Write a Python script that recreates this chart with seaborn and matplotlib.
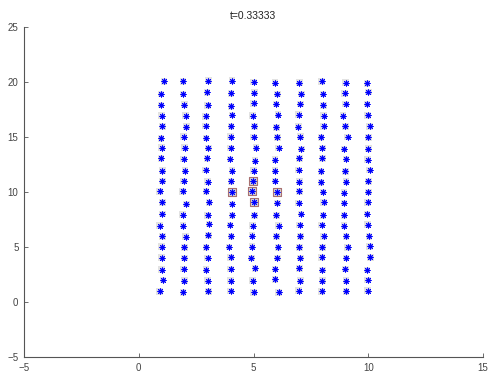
import numpy as np
import pandas as pd
import matplotlib
matplotlib.use("Agg")
import matplotlib.pyplot as plt
import seaborn as sns

title_text = "t=0.33333"
cols = list(range(1, 11))
rows = list(range(20, 0, -1))

# per-row jitter (data units), rows from y=20 down to y=1
dx_rows = [
    [0.09, -0.07, 0.03, 0.06, 0, -0.06, 0, -0.03, 0.01, -0.06],
    [-0.04, -0.07, -0.03, 0.03, 0.04, 0.04, 0.09, 0.03, -0.03, 0],
    [-0.04, -0.01, 0, 0.03, 0, -0.03, 0.04, 0.04, 0.01, -0.06],
    [0, 0.04, -0.09, 0.06, -0.04, 0.07, -0.03, 0.06, -0.09, -0.03],
    [0.03, 0.07, -0.09, 0.03, 0.04, 0, -0.04, 0.06, 0, 0.06],
    [-0.04, -0.04, -0.06, 0, 0, 0.04, 0.04, -0.06, 0.10, 0],
    [0, 0, 0.03, 0, 0.10, 0.10, 0.09, 0, -0.06, 0],
    [-0.04, -0.04, -0.03, -0.03, 0.07, -0.06, 0, 0, 0.04, -0.03],
    [0.03, 0.01, -0.09, 0.06, 0, -0.06, -0.03, -0.06, 0, 0.06],
    [0.03, -0.04, 0, 0.03, -0.04, -0.06, 0, -0.06, 0.04, 0],
    [-0.09, -0.09, -0.06, 0.06, -0.06, 0.04, 0, 0.03, -0.06, 0],
    [0.03, 0.07, 0.06, 0.06, 0.04, 0.04, -0.03, 0.06, -0.06, -0.03],
    [0.03, -0.09, 0, 0.06, 0.04, 0, 0.07, 0.03, -0.06, -0.06],
    [-0.09, -0.07, 0.06, -0.03, -0.04, 0.10, 0.01, -0.03, -0.06, -0.03],
    [0.03, 0.04, 0.03, 0.03, -0.06, 0, 0.04, 0.06, 0.04, 0.03],
    [0, -0.01, -0.06, -0.07, -0.06, 0.07, 0, 0, 0.10, 0.06],
    [0, -0.01, 0, 0, -0.09, 0.04, 0.04, -0.03, 0.04, 0.09],
    [0, -0.04, -0.06, 0, 0.07, -0.06, 0, 0, 0, -0.06],
    [0.06, -0.01, 0, 0, -0.04, -0.06, 0.04, 0, 0.04, -0.03],
    [-0.09, -0.07, 0.03, 0, 0, 0.10, -0.03, -0.03, 0.04, -0.03],
]
dy_rows = [
    [0.06, 0.06, 0.12, 0.12, 0, -0.06, -0.06, 0.06, -0.06, -0.12],
    [-0.09, -0.09, 0.06, -0.03, 0.03, -0.09, -0.09, -0.09, -0.03, 0.09],
    [-0.09, -0.06, -0.12, -0.21, 0.06, 0, 0, -0.12, 0, 0],
    [-0.06, -0.06, -0.12, 0, -0.06, 0.03, 0.03, -0.06, -0.06, -0.03],
    [-0.03, -0.06, 0, -0.03, -0.03, -0.12, -0.06, -0.03, -0.03, -0.03],
    [-0.12, 0.03, -0.09, 0.03, 0, -0.03, 0.03, -0.03, 0, -0.03],
    [0.03, 0.03, 0, 0, 0.03, 0, -0.09, 0, -0.09, -0.06],
    [0.06, 0, 0.06, 0, -0.15, -0.06, 0.06, 0.06, 0, -0.06],
    [-0.06, -0.06, 0, -0.06, -0.06, -0.06, 0, -0.12, -0.12, 0],
    [0, 0, -0.06, -0.03, 0, 0, -0.06, -0.12, -0.06, -0.03],
    [0.06, 0.06, 0.06, -0.03, 0.06, -0.03, 0.06, 0, -0.06, 0],
    [0.06, -0.09, 0.06, -0.09, 0.06, 0, 0, 0.06, 0, 0.06],
    [0, -0.06, -0.12, -0.12, -0.12, -0.12, 0, -0.12, -0.12, 0],
    [-0.06, -0.06, 0.09, 0, -0.06, -0.06, 0, 0, -0.06, 0.03],
    [-0.03, -0.06, 0.06, -0.03, 0.03, -0.03, -0.03, -0.03, -0.03, -0.03],
    [0.03, -0.03, -0.03, 0, 0.03, -0.03, -0.03, -0.03, -0.03, 0.06],
    [0.03, 0, 0, 0.06, 0, 0, 0, 0.06, 0, 0.06],
    [-0.06, 0, -0.06, 0, 0.06, 0, 0.06, -0.09, 0, -0.09],
    [0, -0.06, -0.06, -0.06, -0.06, 0.06, -0.06, -0.06, -0.06, 0],
    [-0.03, -0.12, -0.03, 0, -0.12, -0.12, 0.03, -0.03, -0.03, 0.03],
]
# marked particles (grid column, grid row)
marked = [(4, 10), (5, 10), (6, 10), (5, 9), (5, 11)]

recs = []
for ri, r in enumerate(rows):
    for ci, c in enumerate(cols):
        recs.append({"x": c + dx_rows[ri][ci], "y": r + dy_rows[ri][ci],
                     "marked": (c, r) in marked})
df = pd.DataFrame(recs)

sns.set_style("white")
plt.rcParams["font.family"] = ["Liberation Sans", "DejaVu Sans"]

fig = plt.figure(figsize=(5, 3.75), dpi=100)
ax = fig.add_axes([0.048, 0.048, 0.918, 0.88])

sns.scatterplot(data=df, x="x", y="y", ax=ax, marker="s", s=22,
                color="#e2e2e2", edgecolor="none", linewidth=0, zorder=1,
                legend=False)
sns.scatterplot(data=df[df["marked"]], x="x", y="y", ax=ax, marker="s", s=28,
                facecolor="#d4d4d4", edgecolor="#a87070", linewidth=0.8, zorder=2,
                legend=False)
sns.scatterplot(data=df, x="x", y="y", ax=ax, marker=(8, 2, 0), s=14,
                color="blue", edgecolor="blue", linewidth=0.7, zorder=3,
                legend=False)

ax.set_xlim(-5, 15)
ax.set_ylim(-5, 25)
ax.set_xticks([-5, 0, 5, 10, 15])
ax.set_yticks([-5, 0, 5, 10, 15, 20, 25])
ax.set_xlabel("")
ax.set_ylabel("")
ax.set_title(title_text, fontsize=7.5, color="#222222", pad=6)

for s in ["top", "right"]:
    ax.spines[s].set_visible(False)
for s in ["left", "bottom"]:
    ax.spines[s].set_color("#555555")
    ax.spines[s].set_linewidth(0.8)
ax.tick_params(axis="both", direction="in", length=3, width=0.6,
               color="#555555", labelsize=7, labelcolor="#444444", pad=4,
               left=True, bottom=True)

fig.savefig("out.png", dpi=100)
